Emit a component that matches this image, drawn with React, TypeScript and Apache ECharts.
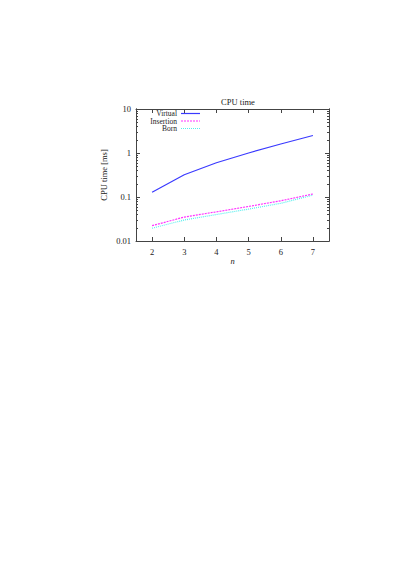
import React, { useEffect, useRef } from "react";
import * as echarts from "echarts";

const nValues = [2, 3, 4, 5, 6, 7];
const virtualTimes = [0.128, 0.32, 0.6, 1.0, 1.6, 2.5];
const insertionTimes = [0.0223, 0.035, 0.046, 0.061, 0.082, 0.117];
const bornTimes = [0.0195, 0.03, 0.04, 0.053, 0.072, 0.11];
const seriesNames = ["Virtual", "Insertion", "Born"];
const xTicks = [2, 3, 4, 5, 6, 7];
const yMajorTicks = [0.01, 0.1, 1, 10];
const yMinorTicks = [
  0.02, 0.03, 0.04, 0.05, 0.06, 0.07, 0.08, 0.09,
  0.2, 0.3, 0.4, 0.5, 0.6, 0.7, 0.8, 0.9,
  2, 3, 4, 5, 6, 7, 8, 9,
];

const FONT = "Liberation Serif";
const AXIS_COLOR = "#444";
const COLORS = ["#3a3aff", "#ff33ff", "#55eeee"];
const DASHES: any[] = ["solid", [2, 1], [1, 1]];

export default function App() {
  const ref = useRef<HTMLDivElement>(null);
  useEffect(() => {
    if (!ref.current) return;
    const chart = echarts.init(ref.current, null, { renderer: "svg" });
    const pair = (vals: number[]) => nValues.map((n, i) => [n, vals[i]]);
    const baseX = {
      type: "value",
      min: 1.5,
      max: 7.5,
      splitLine: { show: false },
      axisLine: { show: true, onZero: false, lineStyle: { color: AXIS_COLOR, width: 1 } },
    };
    const baseY = {
      type: "log",
      logBase: 10,
      min: 0.01,
      max: 10,
      splitLine: { show: false },
      axisLine: { show: true, onZero: false, lineStyle: { color: AXIS_COLOR, width: 1 } },
    };
    const legendGraphics: any[] = [];
    seriesNames.forEach((name, i) => {
      const y = 113.5 + i * 7.5;
      legendGraphics.push({
        type: "text",
        x: 177,
        y,
        style: {
          text: name,
          fontFamily: FONT,
          fontSize: 7.5,
          lineHeight: 7,
          fill: "#222",
          align: "right",
          verticalAlign: "middle",
        },
      });
      legendGraphics.push({
        type: "line",
        shape: { x1: 181, y1: y, x2: 200, y2: y },
        style: {
          stroke: COLORS[i],
          lineWidth: 1.2,
          lineDash: DASHES[i] === "solid" ? null : DASHES[i],
        },
      });
    });
    const data = [virtualTimes, insertionTimes, bornTimes];
    chart.setOption({
      animation: false,
      backgroundColor: "#fff",
      title: {
        text: "CPU time",
        left: 233,
        top: 92,
        textAlign: "center",
        textStyle: { fontFamily: FONT, fontSize: 8.5, fontWeight: "normal", color: "#222" },
      },
      graphic: legendGraphics,
      grid: { left: 136, top: 109, right: 86, bottom: 347, containLabel: false },
      xAxis: [
        {
          ...baseX,
          position: "bottom",
          name: "n",
          nameLocation: "middle",
          nameGap: 15,
          nameTextStyle: { fontFamily: FONT, fontSize: 8.5, fontStyle: "italic", color: "#222" },
          axisTick: { show: true, inside: true, length: 4, customValues: xTicks, lineStyle: { color: AXIS_COLOR } },
          axisLabel: { show: true, customValues: xTicks, fontFamily: FONT, fontSize: 8.5, color: "#222", margin: 6 },
        },
        {
          ...baseX,
          position: "top",
          axisTick: { show: true, inside: true, length: 4, customValues: xTicks, lineStyle: { color: AXIS_COLOR } },
          axisLabel: { show: false },
        },
      ],
      yAxis: [
        {
          ...baseY,
          position: "left",
          name: "CPU time [ms]",
          nameLocation: "middle",
          nameGap: 28,
          nameRotate: 90,
          nameTextStyle: { fontFamily: FONT, fontSize: 8.5, color: "#222" },
          axisTick: { show: true, inside: true, length: 4, customValues: yMajorTicks, lineStyle: { color: AXIS_COLOR } },
          axisLabel: {
            show: true,
            customValues: yMajorTicks,
            fontFamily: FONT,
            fontSize: 8.5,
            color: "#222",
            margin: 5,
            formatter: (v: number) => String(v),
          },
        },
        {
          ...baseY,
          position: "left",
          axisTick: { show: true, inside: true, length: 2, customValues: yMinorTicks, lineStyle: { color: AXIS_COLOR } },
          axisLabel: { show: false },
        },
        {
          ...baseY,
          position: "right",
          axisTick: { show: true, inside: true, length: 4, customValues: yMajorTicks, lineStyle: { color: AXIS_COLOR } },
          axisLabel: { show: false },
        },
        {
          ...baseY,
          position: "right",
          axisTick: { show: true, inside: true, length: 2, customValues: yMinorTicks, lineStyle: { color: AXIS_COLOR } },
          axisLabel: { show: false },
        },
      ],
      series: seriesNames.map((name, i) => ({
        name,
        type: "line",
        data: pair(data[i]),
        showSymbol: false,
        symbol: "none",
        color: COLORS[i],
        lineStyle: { color: COLORS[i], width: 1.2, type: DASHES[i] },
      })),
    });
    return () => chart.dispose();
  }, []);
  return <div ref={ref} style={{ width: 415, height: 588, margin: -8 }} />;
}
